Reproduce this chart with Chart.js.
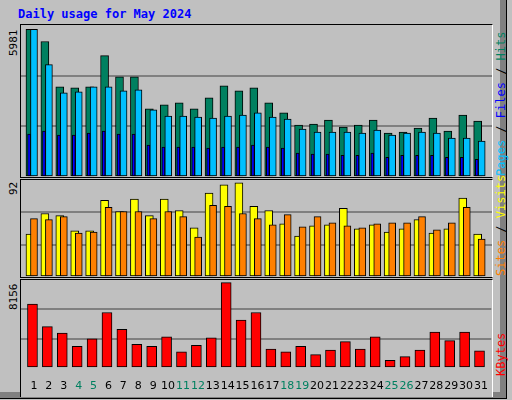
<!DOCTYPE html>
<html><head><meta charset="utf-8">
<script src="https://cdn.jsdelivr.net/npm/chart.js@4/dist/chart.umd.min.js"></script>
<style>
body{margin:0;width:512px;height:400px;background:#c0c0c0;position:relative;overflow:hidden;font-family:"DejaVu Sans Mono",monospace}
#frame{position:absolute;left:0;top:0;width:500px;height:392px;border-right:6px solid #808080;border-bottom:6px solid #808080;outline:1px solid #000}
.panel{position:absolute;left:20px;width:471px;border:1px solid #000;border-right-color:#fff;background:#c0c0c0}
.lab{position:absolute;font-size:11px;transform:rotate(-90deg);transform-origin:left top;white-space:nowrap}
#title{position:absolute;left:18px;top:7px;font-size:12px;font-weight:bold;color:#0000ff}
</style></head><body>
<div id="frame"></div>
<div id="title">Daily usage for May 2024</div>
<div class="panel" style="top:24px;height:152px"><canvas id="c1"></canvas></div>
<div class="panel" style="top:179px;height:97px"><canvas id="c2"></canvas></div>
<div class="panel" style="top:279px;height:97px;border-bottom:none"><canvas id="c3"></canvas></div>
<div class="lab" style="left:7px;top:56px">5981</div>
<div class="lab" style="left:7px;top:195px">92</div>
<div class="lab" style="left:7px;top:310px">8156</div>
<div class="lab" style="left:494px;top:176px;font-size:12px"><span style="color:#00c0ff">Pages</span> / <span style="color:#0000ff">Files</span> / <span style="color:#008060">Hits</span></div>
<div class="lab" style="left:494px;top:276px;font-size:12px"><span style="color:#ff8000">Sites</span> / <span style="color:#ffff00">Visits</span></div>
<div class="lab" style="left:494px;top:376px;font-size:12px"><span style="color:#ff0000">KBytes</span></div>
<script>
const days = Array.from({length: 31}, (_, i) => i + 1);
const hits = [5981,5492,3657,3616,3657,4921,4064,4064,2759,2923,3004,2759,3208,3697,3493,3616,3004,2596,2107,2147,2311,2025,2107,2311,1781,1821,1984,2392,1862,2514,2270];
const files = [5981,4553,3411,3452,3657,3657,3493,3534,2718,2474,2474,2433,2392,2474,2514,2596,2433,2351,1943,1821,1821,1821,1781,1903,1699,1781,1821,1781,1577,1577,1454];
const pages = [1740,1862,1699,1699,1781,1862,1740,1740,1291,1210,1210,1210,1169,1210,1210,1291,1210,1169,965,924,924,883,883,965,802,883,883,883,802,802,720];
const visits = [42,62,60,45,45,75,64,76,60,76,65,48,82,90,92,69,65,52,40,50,51,67,47,51,44,47,56,43,47,77,42];
const sites = [57,56,59,43,44,68,64,64,57,64,59,39,70,69,62,57,51,61,49,59,53,50,48,52,53,53,59,46,53,68,37];
const kbytes = [6095,3944,3316,2062,2779,5288,3675,2241,2062,2958,1524,2151,2868,8156,4571,5288,1793,1524,2062,1255,1703,2510,1793,2958,717,1076,1703,3406,2599,3406,1613];
const weekend = [4,5,11,12,18,19,25,26];

function ds(vals, off, w, bg, order) {
  return {data: vals.map((v, i) => ({x: days[i] + off, y: v})), backgroundColor: bg, grouped: false,
    borderColor: '#000', borderWidth: 1, barThickness: w, order: order, borderSkipped: false};
}
function make(id, datasets, max, showX) {
  return new Chart(document.getElementById(id), {
    type: 'bar',
    data: {datasets: datasets},
    options: {
      responsive: true, maintainAspectRatio: false, animation: false,
      layout: {padding: 0},
      plugins: {legend: {display: false}, tooltip: {enabled: false}},
      scales: {
        x: {type: 'linear', min: 0.13, max: 31.69, display: showX, offset: false,
          grid: {display: false}, border: {display: false},
          afterBuildTicks: s => { s.ticks = days.map(d => ({value: d})); },
          ticks: {autoSkip: false, maxRotation: 0, padding: 4, font: {family: 'DejaVu Sans', size: 11},
            color: c => weekend.includes(c.tick.value) ? '#008060' : '#000'}},
        y: {min: 0, max: max, afterFit: s => { s.width = 0; },
          ticks: {display: false, stepSize: max / 3}, border: {display: false},
          grid: {color: c => (c.tick.value > 0 && c.tick.value < max) ? '#808080' : 'rgba(0,0,0,0)', lineWidth: 2}}
      }
    }
  });
}
make('c1', [ds(pages, -0.33, 3, '#0000ff', 0), ds(files, 0, 7, '#00c0ff', 1), ds(hits, -0.27, 8, '#008060', 2)], 5981 * 1.03, false);
make('c2', [ds(sites, 0, 7, '#ff8000', 0), ds(visits, -0.27, 8, '#ffff00', 1)], 92 * 1.03, false);
document.querySelector('#c3').parentNode.style.height = '117px';
make('c3', [ds(kbytes, -0.1, 10, '#ff0000', 0)], 8156 * 1.03, true);
</script>
</body></html>
